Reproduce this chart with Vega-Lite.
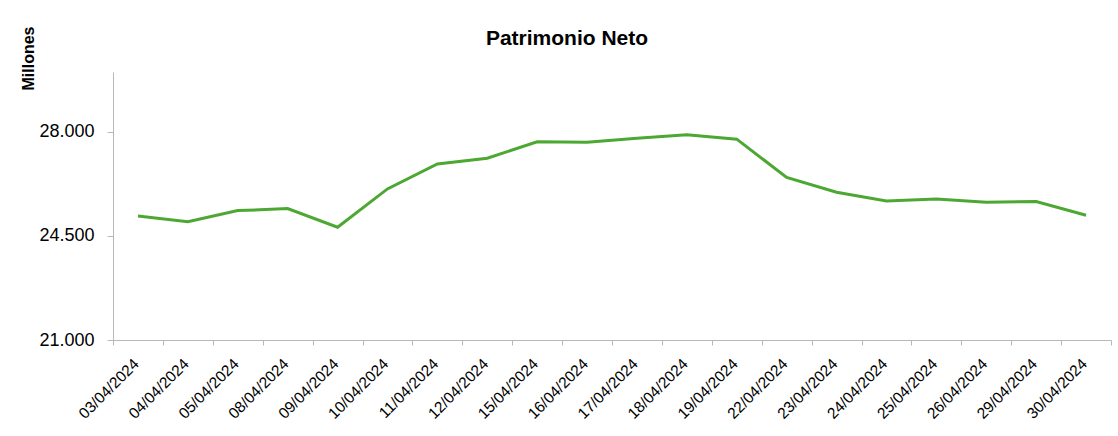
{
  "$schema": "https://vega.github.io/schema/vega-lite/v6.json",
  "width": 998,
  "height": 268,
  "autosize": "none",
  "padding": {"left": 113, "top": 72, "right": 7, "bottom": 96},
  "background": "white",
  "title": {
    "text": "Patrimonio Neto",
    "font": "Liberation Sans",
    "fontSize": 21,
    "fontWeight": "bold",
    "color": "#000000",
    "anchor": "middle",
    "baseline": "alphabetic",
    "offset": 0,
    "dy": 40,
    "dx": -45
  },
  "data": {
    "values": [
      {"fecha": "03/04/2024", "valor": 25166},
      {"fecha": "04/04/2024", "valor": 24975},
      {"fecha": "05/04/2024", "valor": 25345},
      {"fecha": "08/04/2024", "valor": 25412},
      {"fecha": "09/04/2024", "valor": 24787},
      {"fecha": "10/04/2024", "valor": 26074},
      {"fecha": "11/04/2024", "valor": 26914},
      {"fecha": "12/04/2024", "valor": 27106},
      {"fecha": "15/04/2024", "valor": 27654},
      {"fecha": "16/04/2024", "valor": 27644},
      {"fecha": "17/04/2024", "valor": 27778},
      {"fecha": "18/04/2024", "valor": 27889},
      {"fecha": "19/04/2024", "valor": 27745},
      {"fecha": "22/04/2024", "valor": 26461},
      {"fecha": "23/04/2024", "valor": 25963},
      {"fecha": "24/04/2024", "valor": 25671},
      {"fecha": "25/04/2024", "valor": 25738},
      {"fecha": "26/04/2024", "valor": 25627},
      {"fecha": "29/04/2024", "valor": 25647},
      {"fecha": "30/04/2024", "valor": 25190}
    ]
  },
  "mark": {"type": "line", "color": "#4CA832", "strokeWidth": 3, "strokeJoin": "miter"},
  "encoding": {
    "x": {
      "field": "fecha",
      "type": "ordinal",
      "sort": null,
      "scale": {"type": "band", "paddingInner": 0, "paddingOuter": 0},
      "axis": {
        "title": null,
        "labelAngle": -45,
        "labelFont": "Liberation Sans",
        "labelFontSize": 15.5,
        "labelColor": "#000000",
        "labelPadding": 11,
        "labelOffset": -7,
        "tickBand": "extent",
        "tickSize": 5,
        "tickColor": "#b8b8b8",
        "domainColor": "#b8b8b8",
        "grid": false
      }
    },
    "y": {
      "field": "valor",
      "type": "quantitative",
      "scale": {"domain": [21000, 30000], "nice": false, "zero": false},
      "axis": {
        "values": [21000, 24500, 28000],
        "labelExpr": "replace(format(datum.value, ',.0f'), ',', '.')",
        "grid": false,
        "labelFont": "Liberation Sans",
        "labelFontSize": 18,
        "labelColor": "#000000",
        "labelPadding": 13,
        "tickSize": 6,
        "tickColor": "#b8b8b8",
        "domainColor": "#b8b8b8",
        "title": "Millones",
        "titleFont": "Liberation Sans",
        "titleFontSize": 16,
        "titleFontWeight": "bold",
        "titleColor": "#000000",
        "titleAngle": -90,
        "titleAlign": "center",
        "titleBaseline": "middle",
        "titleX": -85,
        "titleY": -14
      }
    }
  },
  "config": {"view": {"stroke": null}}
}
